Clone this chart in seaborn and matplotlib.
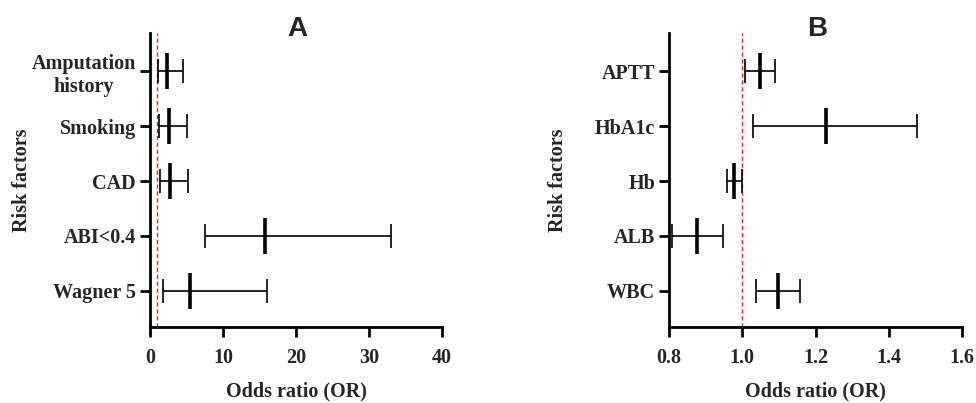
import matplotlib
matplotlib.use("Agg")
import matplotlib.pyplot as plt
import seaborn as sns
import pandas as pd

# Panel A data
factors_a = ["Amputation\nhistory", "Smoking", "CAD", "ABI<0.4", "Wagner 5"]
or_a = [2.28, 2.55, 2.69, 15.75, 5.48]
low_a = [1.14, 1.28, 1.37, 7.49, 1.83]
high_a = [4.47, 5.07, 5.25, 33.06, 15.98]
xticks_a = [0, 10, 20, 30, 40]

# Panel B data
factors_b = ["APTT", "HbA1c", "Hb", "ALB", "WBC"]
or_b = [1.048, 1.229, 0.978, 0.877, 1.098]
low_b = [1.008, 1.028, 0.957, 0.809, 1.038]
high_b = [1.089, 1.478, 0.998, 0.948, 1.158]
xticks_b = [0.8, 1.0, 1.2, 1.4, 1.6]
xticklabels_b = ["0.8", "1.0", "1.2", "1.4", "1.6"]

sns.set_theme(style="ticks")
plt.rcParams["font.family"] = ["Liberation Serif", "DejaVu Serif"]

FS = 14.5

fig = plt.figure(figsize=(9.76, 4.03), dpi=100)
ax_a = fig.add_axes([150/976, 1-327/403, 292/976, 294/403])
ax_b = fig.add_axes([669/976, 1-327/403, 293/976, 294/403])


def panel(ax, factors, mid, low, high, xlim, xticks, xticklabels, title, title_x):
    n = len(factors)
    pos = list(range(n - 1, -1, -1))
    df = pd.DataFrame({"factor": factors, "OR": mid, "low": low, "high": high, "pos": pos})
    ax.axvline(1.0, color="#e8262b", lw=1.0, ls=(0, (3, 2)), zorder=1)
    ax.errorbar(df["OR"], df["pos"],
                xerr=[df["OR"] - df["low"], df["high"] - df["OR"]],
                fmt="none", ecolor="black", elinewidth=1.2, capsize=8.5,
                capthick=1.2, zorder=2)
    sns.scatterplot(data=df, x="OR", y="pos", marker="|", s=700, color="black",
                    linewidth=2.6, ax=ax, zorder=3, legend=False)
    ax.set_xlim(*xlim)
    ax.set_ylim(-0.66, n - 1 + 0.70)
    ax.set_xticks(xticks)
    ax.set_xticklabels(xticklabels)
    ax.set_yticks(pos)
    ax.set_yticklabels(factors, linespacing=1.18)
    for s in ["top", "right"]:
        ax.spines[s].set_visible(False)
    for s in ["left", "bottom"]:
        ax.spines[s].set_linewidth(2.0)
        ax.spines[s].set_color("black")
    ax.tick_params(axis="both", width=2.0, length=7, color="black",
                   labelsize=FS, pad=3)
    ax.tick_params(axis="x", pad=8)
    for lab in ax.get_xticklabels() + ax.get_yticklabels():
        lab.set_fontweight("bold")
    for lab in ax.get_yticklabels():
        lab.set_multialignment("center")
    ax.set_xlabel("Odds ratio (OR)", fontsize=FS, fontweight="bold", labelpad=10)
    ax.set_ylabel("Risk factors", fontsize=FS, fontweight="bold")
    fig.text(title_x, 1 - 29/403, title, ha="center", va="center",
             fontsize=20, fontweight="bold", family="Liberation Sans")


panel(ax_a, factors_a, or_a, low_a, high_a, (0, 40), xticks_a,
      [str(t) for t in xticks_a], "A", 297/976)
panel(ax_b, factors_b, or_b, low_b, high_b, (0.8, 1.6), xticks_b,
      xticklabels_b, "B", 817/976)
ax_a.yaxis.set_label_coords(-0.405, 0.5)
ax_b.yaxis.set_label_coords(-0.345, 0.5)

fig.savefig("out.png", dpi=100)
